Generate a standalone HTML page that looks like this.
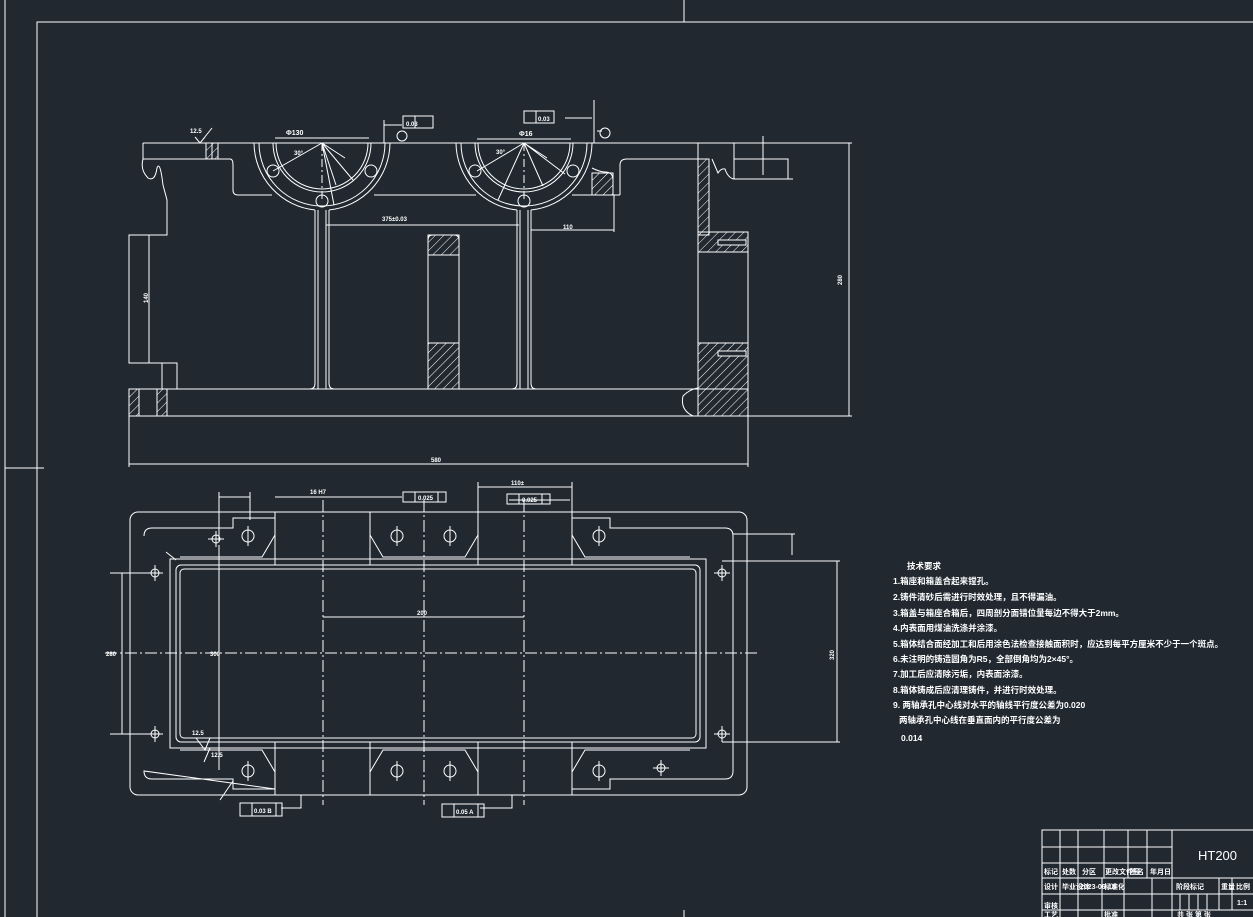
<!DOCTYPE html>
<html><head><meta charset="utf-8"><style>
html,body{margin:0;padding:0;background:#212830;}
svg{display:block}
text{font-family:"Liberation Sans","Noto Sans CJK SC",sans-serif;fill:#fff;}
</style></head><body>
<svg width="1253" height="917" viewBox="0 0 1253 917" xmlns="http://www.w3.org/2000/svg">
<defs>
<pattern id="h" width="6" height="6" patternUnits="userSpaceOnUse" patternTransform="rotate(45)">
<line x1="0" y1="0" x2="0" y2="6" stroke="#fff" stroke-width="1"/>
</pattern>
</defs>
<rect width="1253" height="917" fill="#212830"/>
<g stroke="#fff" stroke-width="1" fill="none">
<!-- frame -->
<line x1="5" y1="0" x2="5" y2="917"/>
<rect x="37" y="22" width="1230" height="900"/>
<line x1="684" y1="0" x2="684" y2="22"/>
<line x1="684" y1="910" x2="684" y2="917"/>
<line x1="5" y1="468" x2="44" y2="468"/>

<!-- FRONT VIEW -->
<path d="M143,143 H850"/>
<path d="M143,143 V159 H143 Q140,170 148,178 Q155,182 157,168 Q160,160 163,185 L167,200 V235 H129 V363 H162 V389 H177 V363 H162"/>
<path d="M143,159 H230 Q233,159 233,165 V190 Q233,195 238,195 H272"/>
<rect x="206" y="143" width="12" height="16" fill="url(#h)"/>
<line x1="212" y1="143" x2="212" y2="159"/>
<path d="M129,389 H748"/>
<path d="M129,389 V416 H748 V236"/>
<rect x="129" y="389" width="10" height="27" fill="url(#h)"/>
<rect x="157" y="389" width="10" height="27" fill="url(#h)"/>
<!-- left bearing -->
<path d="M254,143 A68,68 0 0 0 315,210"/>
<path d="M390,143 A68,68 0 0 1 329,210"/>
<path d="M259,143 A63,63 0 0 0 322,206 A63,63 0 0 0 385,143"/>
<path d="M273,143 A49,49 0 0 0 371,143"/>
<path d="M276,143 A46,46 0 0 0 368,143"/>
<circle cx="273" cy="171" r="6"/><circle cx="371" cy="171" r="6"/><circle cx="322" cy="201" r="6"/>
<path d="M322,143 L273,171 M322,143 L345,158 M322,143 L353,180 M322,143 L334,205 M322,143 L336,185"/>
<line x1="322" y1="143" x2="322" y2="200" stroke-dasharray="8,3,2,3"/>
<!-- right bearing -->
<path d="M456,143 A68,68 0 0 0 517,210"/>
<path d="M592,143 A68,68 0 0 1 531,210"/>
<path d="M461,143 A63,63 0 0 0 524,206 A63,63 0 0 0 587,143"/>
<path d="M475,143 A49,49 0 0 0 573,143"/>
<path d="M478,143 A46,46 0 0 0 570,143"/>
<circle cx="475" cy="171" r="6"/><circle cx="573" cy="171" r="6"/><circle cx="524" cy="201" r="6"/>
<path d="M524,143 L477,171 M524,143 L547,158 M524,143 L565,174 M524,143 L498,200 M524,143 L543,186"/>
<line x1="524" y1="143" x2="524" y2="200" stroke-dasharray="8,3,2,3"/>
<!-- shelf -->
<path d="M374,195 H476 M572,195 H620"/>
<!-- ribs -->
<path d="M315,210 V383 Q315,389 310,389 M318,210 V389 M326,210 V389 M329,210 V383 Q329,389 334,389"/>
<path d="M517,210 V383 Q517,389 512,389 M520,210 V389 M528,210 V389 M531,210 V383 Q531,389 536,389"/>
<!-- middle window -->
<path d="M428,389 V240 Q428,235 433,235 H454 Q459,235 459,240 V389"/>
<rect x="428" y="235" width="31" height="20" fill="url(#h)"/>
<rect x="428" y="343" width="31" height="46" fill="url(#h)"/>
<line x1="428" y1="255" x2="459" y2="255"/><line x1="428" y1="343" x2="459" y2="343"/>
<!-- right side -->
<path d="M592,168 Q600,172 605,172 Q613,172 613,180 V195"/>
<rect x="592" y="173" width="21" height="22" fill="url(#h)"/>
<path d="M620,195 V165 Q620,159 627,159 H698"/>
<path d="M698,143 V159 M734,143 V179"/>
<rect x="698" y="159" width="11" height="76" fill="url(#h)"/>
<path d="M698,159 V388 Q690,389 683,396 Q680,410 693,416"/>
<path d="M709,159 V232 H748"/>
<path d="M712,159 L718,173 Q721,168 725,169 Q728,178 734,179 H793 M734,159 H788 V179"/>
<rect x="698" y="232" width="50" height="20" fill="url(#h)"/>
<rect x="698" y="343" width="50" height="73" fill="url(#h)"/>
<rect x="718" y="240" width="28" height="5" fill="#212830"/>
<rect x="718" y="351" width="28" height="5" fill="#212830"/>
<line x1="698" y1="252" x2="748" y2="252"/><line x1="698" y1="343" x2="748" y2="343"/>
<line x1="698" y1="252" x2="698" y2="343"/>
<!-- dimensions front -->
<path d="M849,143 V416 M748,143 H852 M748,416 H852"/>
<path d="M763,136 V175"/>
<path d="M129,416 V467 M748,416 V467 M129,464 H748"/>
<path d="M149,235 V363"/>
<path d="M326,225 H519 M531,230 H614 M614,195 V232"/>
<path d="M384,120 V143 M384,125 H402 M594,100 V143 M597,131 H602 M565,118 H592"/>
<circle cx="402" cy="136" r="5"/><circle cx="605" cy="133" r="5"/>
<rect x="403" y="116" width="12" height="12"/><rect x="415" y="116" width="18" height="12"/>
<rect x="524" y="111" width="12" height="12"/><rect x="536" y="111" width="18" height="12"/>
<path d="M275,138 H369 M477,139 H571"/>
<path d="M195,137 L200,143 L205,137 M200,143 L212,128"/>

<!-- PLAN VIEW -->
<rect x="130" y="512" width="617" height="283" rx="8"/>
<path d="M144,536 Q144,528 152,528 H233 V518 H275 M572,518 H610 V528 H725 Q733,528 733,536 V771 Q733,779 725,779 H610 V789 H572 M275,789 H233 V779 H152 Q144,779 144,771 Z"/>
<rect x="176" y="565" width="524" height="177" rx="5"/>
<rect x="180" y="569" width="516" height="169" rx="4"/>
<path d="M170,559 H706 V748 H170 Z"/>
<path d="M275,512 V565 M370,512 V565 M478,512 V565 M572,512 V565 M275,742 V795 M370,742 V795 M478,742 V795 M572,742 V795"/>
<path d="M370,535 L383,557 H465 L478,535 M370,772 L383,750 H465 L478,772"/>
<path d="M275,535 L262,557 H180 M572,535 L585,557 H690 M275,772 L262,750 H180 M572,772 L585,750 H690"/>
<g>
<circle cx="248" cy="536" r="6"/><circle cx="397" cy="536" r="6"/><circle cx="450" cy="536" r="6"/><circle cx="599" cy="536" r="6"/>
<circle cx="248" cy="771" r="6"/><circle cx="397" cy="771" r="6"/><circle cx="450" cy="771" r="6"/><circle cx="599" cy="771" r="6"/>
<circle cx="155" cy="573" r="4"/><circle cx="155" cy="734" r="4"/><circle cx="722" cy="573" r="4"/><circle cx="722" cy="734" r="4"/>
<circle cx="216" cy="539" r="4"/><circle cx="661" cy="768" r="4"/>
<path d="M248,526 V546 M397,526 V546 M450,526 V546 M599,526 V546 M248,761 V781 M397,761 V781 M450,761 V781 M599,761 V781 M155,565 V581 M147,573 H163 M155,726 V742 M147,734 H163 M722,565 V581 M714,573 H730 M722,726 V742 M714,734 H730 M216,531 V547 M208,539 H224 M661,760 V776 M653,768 H669"/>
</g>
<line x1="105" y1="653" x2="760" y2="653" stroke-dasharray="12,3,2,3"/>
<line x1="323" y1="500" x2="323" y2="805" stroke-dasharray="12,3,2,3"/>
<line x1="424" y1="500" x2="424" y2="805" stroke-dasharray="12,3,2,3"/>
<line x1="524" y1="500" x2="524" y2="805" stroke-dasharray="12,3,2,3"/>
<path d="M323,617 H524 M110,573 H155 M110,734 H155 M122,573 V734 M722,561 H840 M722,742 H840 M837,561 V742 M733,534 H795 M792,534 V555"/>
<path d="M219,492 V541 M219,545 V770 M219,497 H250 M250,492 V520 M275,497 H402 M478,487 H572 M572,482 V512 M478,482 V512 M509,500 H570"/>
<rect x="403" y="492" width="12" height="10"/><rect x="415" y="492" width="23" height="10"/><rect x="438" y="492" width="8" height="10"/>
<rect x="507" y="494" width="12" height="10"/><rect x="519" y="494" width="23" height="10"/><rect x="542" y="494" width="8" height="10"/>
<path d="M301,795 V808 H281 M512,795 V808 H480"/>
<rect x="240" y="803" width="12" height="13"/><rect x="252" y="803" width="24" height="13"/><rect x="276" y="803" width="6" height="13"/>
<rect x="442" y="804" width="12" height="13"/><rect x="454" y="804" width="24" height="13"/><rect x="478" y="804" width="6" height="13"/>
<path d="M166,552 L176,560 M196,738 L205,750 L210,738 M204,762 L210,748 M220,800 L233,781"/>

<!-- TITLE BLOCK -->
<path d="M1042,917 V830 H1253 M1172,830 V917 M1042,847 H1172 M1042,863 H1172 M1042,878 H1253 M1042,894 H1253 M1042,910 H1253"/>
<path d="M1060,830 V917 M1078,830 V917 M1104,830 V878 M1128,830 V878 M1147,830 V878 M1102,878 V917 M1124,878 V917 M1152,878 V917"/>
<path d="M1219,878 V910 M1232,878 V910 M1180,894 V910 M1189,894 V910 M1198,894 V910 M1207,894 V910"/>
</g>
<g font-size="7" font-weight="bold">
<text x="286" y="135">Φ130</text><text x="519" y="136">Φ16</text>
<text x="294" y="155" font-size="6">30°</text><text x="496" y="154" font-size="6">30°</text>
<text x="406" y="126" font-size="6">0.03</text><text x="538" y="121" font-size="6">0.03</text>
<text x="190" y="133" font-size="6">12.5</text>
<text x="382" y="221" font-size="6">375±0.03</text><text x="563" y="229" font-size="6">110</text>
<text x="431" y="462" font-size="6">580</text>
<text x="148" y="303" font-size="6" transform="rotate(-90 148 303)">140</text>
<text x="842" y="285" font-size="6" transform="rotate(-90 842 285)">280</text>
<text x="310" y="494" font-size="6">16 H7</text><text x="511" y="485" font-size="6">110±</text>
<text x="417" y="615" font-size="6">200</text>
<text x="106" y="656" font-size="6">280</text><text x="210" y="656" font-size="6">300</text>
<text x="834" y="660" font-size="6" transform="rotate(-90 834 660)">320</text>
<text x="192" y="735" font-size="6">12.5</text><text x="211" y="757" font-size="6">12.5</text>
<text x="254" y="813" font-size="6">0.03 B</text><text x="456" y="814" font-size="6">0.05 A</text>
<text x="418" y="500" font-size="6">0.025</text><text x="522" y="502" font-size="6">0.025</text>
</g>
<g font-size="8.5" font-weight="bold">
<text x="907" y="569">技术要求</text>
<text x="893" y="584">1.箱座和箱盖合起来镗孔。</text>
<text x="893" y="600">2.铸件清砂后需进行时效处理，且不得漏油。</text>
<text x="893" y="616">3.箱盖与箱座合箱后，四周剖分面错位量每边不得大于2mm。</text>
<text x="893" y="631">4.内表面用煤油洗涤并涂漆。</text>
<text x="893" y="647">5.箱体结合面经加工和后用涂色法检查接触面积时，应达到每平方厘米不少于一个斑点。</text>
<text x="893" y="662">6.未注明的铸造圆角为R5，全部倒角均为2×45°。</text>
<text x="893" y="677">7.加工后应清除污垢，内表面涂漆。</text>
<text x="893" y="693">8.箱体铸成后应清理铸件，并进行时效处理。</text>
<text x="893" y="708">9. 两轴承孔中心线对水平的轴线平行度公差为0.020</text>
<text x="899" y="723">两轴承孔中心线在垂直面内的平行度公差为</text>
<text x="901" y="741">0.014</text>
</g>
<g font-size="7" font-weight="bold">
<text x="1198" y="860" font-size="13" font-weight="normal">HT200</text>
<text x="1044" y="874">标记</text><text x="1062" y="874">处数</text><text x="1082" y="874">分区</text><text x="1105" y="874">更改文件号</text><text x="1130" y="874">签名</text><text x="1150" y="874">年月日</text>
<text x="1044" y="889">设计</text><text x="1062" y="889">毕业设计</text><text x="1080" y="889">2023-06-18</text><text x="1104" y="889">标准化</text>
<text x="1176" y="889">阶段标记</text><text x="1221" y="889">重量</text><text x="1236" y="889">比例</text>
<text x="1237" y="905">1:1</text>
<text x="1044" y="908">审核</text><text x="1044" y="917">工艺</text><text x="1104" y="917">批准</text>
<text x="1177" y="917">共 张 第 张</text>
</g>
</svg>
</body></html>
